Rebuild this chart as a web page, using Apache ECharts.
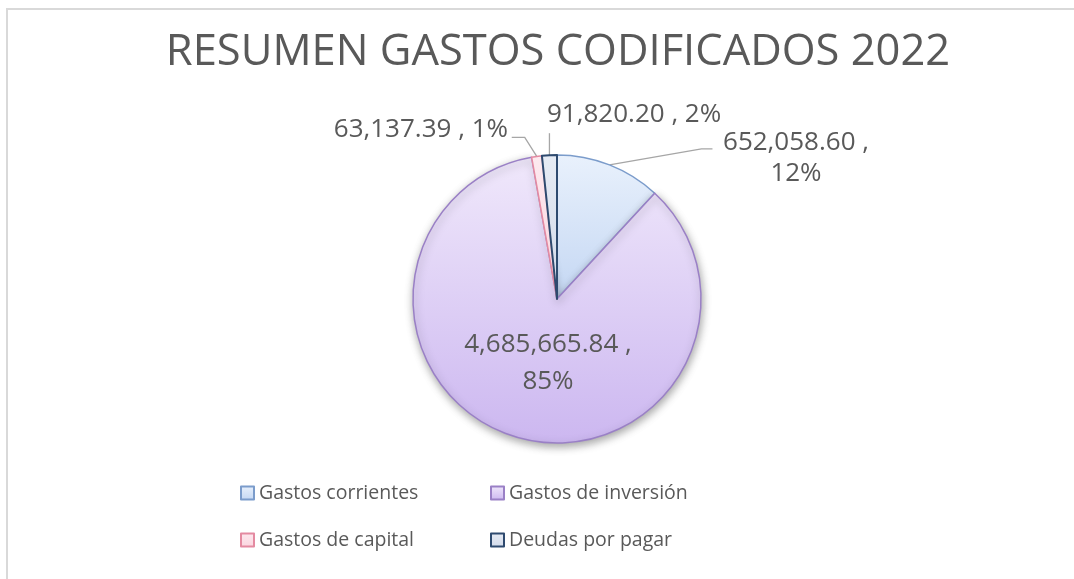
<!DOCTYPE html>
<html><head><meta charset="utf-8">
<script src="https://cdn.jsdelivr.net/npm/echarts@6/dist/echarts.min.js"></script>
<style>html,body{margin:0;padding:0;background:#fff;}#c{width:1074px;height:579px;}</style>
</head><body><div id="c"></div>
<script>
const titleText = 'RESUMEN GASTOS CODIFICADOS 2022';
const categories = ['Gastos corrientes', 'Gastos de inversión', 'Gastos de capital', 'Deudas por pagar'];
const values = [652058.60, 4685665.84, 63137.39, 91820.20];
const legendCol1 = ['Gastos corrientes', 'Gastos de capital'];
const legendCol2 = ['Gastos de inversión', 'Deudas por pagar'];

// presentation settings
const CX = 557, CY = 299, R = 144;
const sliceStyles = [
  { top: '#e9f1fc', bottom: '#c4d7f3', border: '#7b9ccb', width: 1.5 },
  { top: '#f0e8fb', bottom: '#ccb7f0', border: '#9a80c6', width: 1.5 },
  { top: '#fde9ef', bottom: '#fbd5df', border: '#e48aa1', width: 1.5 },
  { top: '#e6ebf4', bottom: '#d2daea', border: '#2e4a6f', width: 2 }
];
const labelPlacement = [
  { x: 796, y: 158, align: 'center', lineHeight: 31, inside: false, line: [[92, -16], [103, -16]] },
  { x: 548, y: 363, align: 'center', lineHeight: 37, inside: true },
  { x: 508, y: 130, align: 'right', lineHeight: 30, inside: false, line: [[-12, -19], [-25, -19]] },
  { x: 547, y: 115, align: 'left', lineHeight: 30, inside: false, line: [[0, -22], [0, -22]] }
];

const total = values.reduce((a, b) => a + b, 0);
function anchorPoint(i) {
  let cum = 0;
  for (let k = 0; k < i; k++) cum += values[k];
  const a = (cum + values[i] / 2) / total * Math.PI * 2;
  return [CX + R * Math.sin(a), CY - R * Math.cos(a)];
}
function fmtNum(v) {
  return v.toLocaleString('en-US', { minimumFractionDigits: 2, maximumFractionDigits: 2 });
}

const pieData = categories.map((name, i) => {
  const s = sliceStyles[i];
  const p = labelPlacement[i];
  return {
    name: name,
    value: values[i],
    itemStyle: Object.assign({
      color: new echarts.graphic.LinearGradient(0, 0, 0, 1, [
        { offset: 0, color: s.top }, { offset: 1, color: s.bottom }
      ]),
      borderColor: s.border,
      borderWidth: s.width
    }, i === 1 ? { shadowBlur: 8, shadowOffsetX: 1, shadowOffsetY: 3, shadowColor: 'rgba(0,0,0,0.35)' } : {}),
    label: { position: p.inside ? 'inside' : 'outside', lineHeight: p.lineHeight },
    labelLine: { show: !p.inside }
  };
});

const chart = echarts.init(document.getElementById('c'), null, { renderer: 'canvas' });
const legendText = { fontFamily: 'Open Sans', fontSize: 19.5, color: '#595959', lineHeight: 24 };
chart.setOption({
  backgroundColor: '#ffffff',
  animation: false,
  graphic: [{
    type: 'rect', silent: true, z: -10,
    shape: { x: 7, y: 9, width: 1200, height: 700 },
    style: { fill: 'none', stroke: '#d9d9d9', lineWidth: 2 }
  }],
  title: {
    text: titleText,
    left: 553, top: 26, textAlign: 'center',
    textStyle: { fontFamily: 'Open Sans', fontSize: 43.5, fontWeight: 'normal', color: '#595959' }
  },
  legend: [
    { data: legendCol1, orient: 'vertical', left: 240, top: 481, padding: 0, itemWidth: 13, itemHeight: 13, itemGap: 23, icon: 'rect', selectedMode: false, textStyle: legendText },
    { data: legendCol2, orient: 'vertical', left: 490, top: 481, padding: 0, itemWidth: 13, itemHeight: 13, itemGap: 23, icon: 'rect', selectedMode: false, textStyle: legendText }
  ],
  series: [{
    type: 'pie',
    center: [CX, CY],
    radius: R,
    startAngle: 90,
    clockwise: true,
    avoidLabelOverlap: false,
    data: pieData,
    label: {
      show: true,
      fontFamily: 'Open Sans', fontSize: 26, color: '#595959',
      formatter: function (p) {
        const pct = Math.round(p.percent) + '%';
        const num = fmtNum(p.value);
        return (p.dataIndex === 0 || p.dataIndex === 1) ? num + ' ,\n' + pct : num + ' , ' + pct;
      }
    },
    labelLine: { show: true, length: 10, length2: 10, lineStyle: { color: '#a6a6a6', width: 1.3 } },
    labelLayout: function (params) {
      const i = params.dataIndex;
      const p = labelPlacement[i];
      const out = { x: p.x, y: p.y, align: p.align, verticalAlign: 'middle' };
      if (!p.inside) {
        const a = anchorPoint(i);
        out.labelLinePoints = [a, [a[0] + p.line[0][0], a[1] + p.line[0][1]], [a[0] + p.line[1][0], a[1] + p.line[1][1]]];
      }
      return out;
    }
  }]
});
</script>
</body></html>
